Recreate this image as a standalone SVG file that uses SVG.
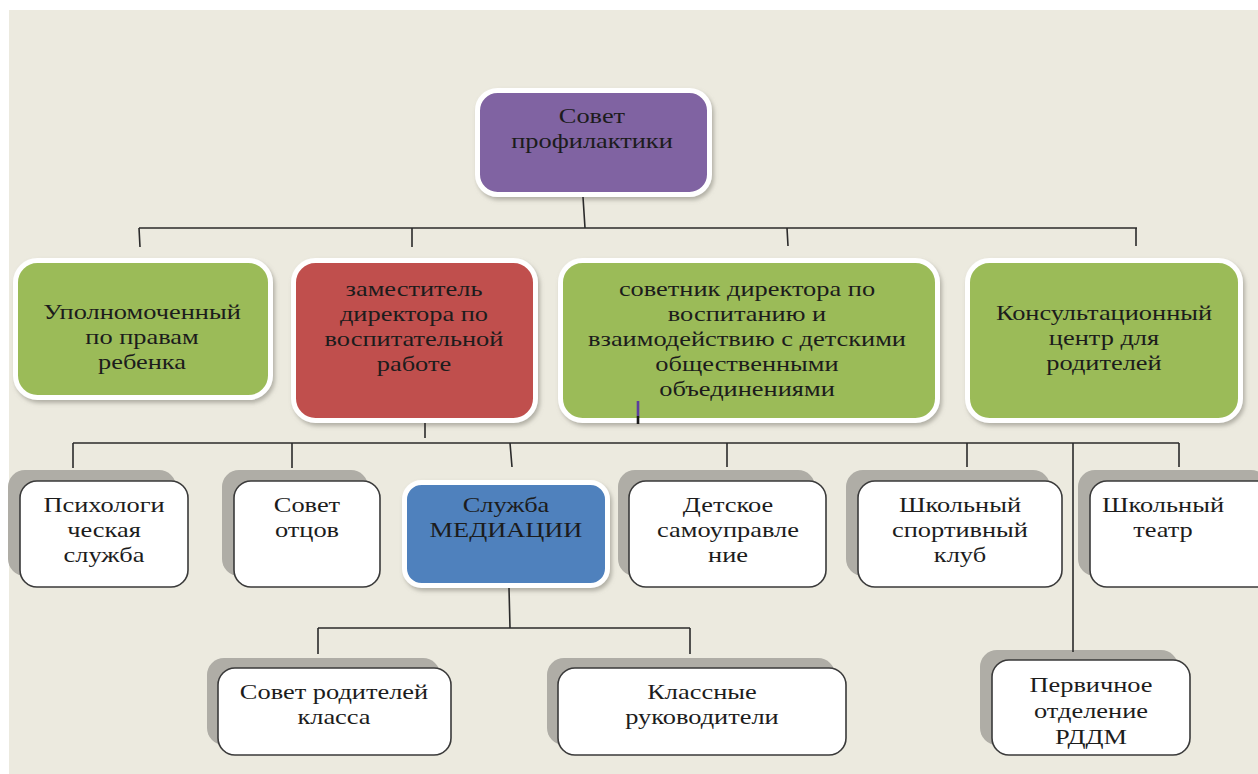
<svg xmlns="http://www.w3.org/2000/svg" width="1258" height="774" viewBox="0 0 1258 774">
<defs>
<style>
.bg{fill:#ECEADF}
.c{fill:none;stroke:#2b2b2b;stroke-width:1.6}
.col{stroke:#ffffff;stroke-width:5}
.wn{fill:#ffffff;stroke:#3a3a3a;stroke-width:1.6}
.sh{fill:#AFADA6}
</style>
<filter id="ds" x="-10%" y="-10%" width="125%" height="130%">
<feDropShadow dx="2" dy="3" stdDeviation="2" flood-color="#8a887f" flood-opacity="0.6"/>
</filter>
<filter id="bl" x="-10%" y="-10%" width="120%" height="120%">
<feGaussianBlur stdDeviation="0.7"/>
</filter>
</defs>
<rect x="0" y="0" width="1258" height="774" fill="#ffffff"/>
<rect class="bg" x="9" y="10" width="1249" height="764"/>

<g id="n-sovet-profilaktiki">
<rect class="col" x="477.5" y="90.5" width="232" height="104" rx="20" fill="#8064A2" filter="url(#ds)"/>
<g transform="matrix(1.2 0 0 1 -118.4 0)">
<text x="592" y="123" font-family="Liberation Serif" font-size="22" text-anchor="middle" fill="#1c1c1c">Совет</text>
<text x="592" y="148" font-family="Liberation Serif" font-size="22" text-anchor="middle" fill="#1c1c1c">профилактики</text>
</g>
</g>

<g id="n-upolnomochenny">
<rect class="col" x="15.5" y="260.5" width="255" height="137" rx="22" fill="#9BBB59" filter="url(#ds)"/>
<g transform="matrix(1.2 0 0 1 -28.4 0)">
<text x="142" y="319" font-family="Liberation Serif" font-size="22" text-anchor="middle" fill="#1c1c1c">Уполномоченный</text>
<text x="142" y="344" font-family="Liberation Serif" font-size="22" text-anchor="middle" fill="#1c1c1c">по правам</text>
<text x="142" y="369" font-family="Liberation Serif" font-size="22" text-anchor="middle" fill="#1c1c1c">ребенка</text>
</g>
</g>

<g id="n-zamestitel">
<rect class="col" x="293.5" y="260.5" width="242" height="160" rx="22" fill="#C0504D" filter="url(#ds)"/>
<g transform="matrix(1.2 0 0 1 -82.8 0)">
<text x="414" y="296" font-family="Liberation Serif" font-size="22" text-anchor="middle" fill="#1c1c1c">заместитель</text>
<text x="414" y="321" font-family="Liberation Serif" font-size="22" text-anchor="middle" fill="#1c1c1c">директора по</text>
<text x="414" y="346" font-family="Liberation Serif" font-size="22" text-anchor="middle" fill="#1c1c1c">воспитательной</text>
<text x="414" y="371" font-family="Liberation Serif" font-size="22" text-anchor="middle" fill="#1c1c1c">работе</text>
</g>
</g>

<g id="n-sovetnik">
<rect class="col" x="560.5" y="260.5" width="377" height="160" rx="22" fill="#9BBB59" filter="url(#ds)"/>
<g transform="matrix(1.2 0 0 1 -149.4 0)">
<text x="747" y="296" font-family="Liberation Serif" font-size="22" text-anchor="middle" fill="#1c1c1c">советник директора по</text>
<text x="747" y="321" font-family="Liberation Serif" font-size="22" text-anchor="middle" fill="#1c1c1c">воспитанию и</text>
<text x="747" y="346" font-family="Liberation Serif" font-size="22" text-anchor="middle" fill="#1c1c1c">взаимодействию с детскими</text>
<text x="747" y="371" font-family="Liberation Serif" font-size="22" text-anchor="middle" fill="#1c1c1c">общественными</text>
<text x="747" y="396" font-family="Liberation Serif" font-size="22" text-anchor="middle" fill="#1c1c1c">объединениями</text>
</g>
</g>

<g id="n-konsult">
<rect class="col" x="967.5" y="260.5" width="273" height="160" rx="22" fill="#9BBB59" filter="url(#ds)"/>
<g transform="matrix(1.2 0 0 1 -220.8 0)">
<text x="1104" y="320" font-family="Liberation Serif" font-size="22" text-anchor="middle" fill="#1c1c1c">Консультационный</text>
<text x="1104" y="345" font-family="Liberation Serif" font-size="22" text-anchor="middle" fill="#1c1c1c">центр для</text>
<text x="1104" y="370" font-family="Liberation Serif" font-size="22" text-anchor="middle" fill="#1c1c1c">родителей</text>
</g>
</g>

<g id="n-psych">
<rect class="sh" x="8" y="470" width="168" height="106" rx="17" filter="url(#bl)"/>
<rect class="wn" x="20" y="481" width="168" height="106" rx="17"/>
<g transform="matrix(1.2 0 0 1 -20.8 0)">
<text x="104" y="512" font-family="Liberation Serif" font-size="22" text-anchor="middle" fill="#1c1c1c">Психологи</text>
<text x="104" y="537" font-family="Liberation Serif" font-size="22" text-anchor="middle" fill="#1c1c1c">ческая</text>
<text x="104" y="562" font-family="Liberation Serif" font-size="22" text-anchor="middle" fill="#1c1c1c">служба</text>
</g>
</g>

<g id="n-sovet-otcov">
<rect class="sh" x="222" y="470" width="146" height="106" rx="17" filter="url(#bl)"/>
<rect class="wn" x="234" y="481" width="146" height="106" rx="17"/>
<g transform="matrix(1.2 0 0 1 -61.4 0)">
<text x="307" y="512" font-family="Liberation Serif" font-size="22" text-anchor="middle" fill="#1c1c1c">Совет</text>
<text x="307" y="537" font-family="Liberation Serif" font-size="22" text-anchor="middle" fill="#1c1c1c">отцов</text>
</g>
</g>

<g id="n-mediacii">
<rect class="col" x="404.5" y="482.5" width="203" height="103" rx="17" fill="#4F81BD" filter="url(#ds)"/>
<g transform="matrix(1.2 0 0 1 -101.2 0)">
<text x="506" y="512" font-family="Liberation Serif" font-size="22" text-anchor="middle" fill="#1c1c1c">Служба</text>
<text x="506" y="537" font-family="Liberation Serif" font-size="22" text-anchor="middle" fill="#1c1c1c">МЕДИАЦИИ</text>
</g>
</g>

<g id="n-detskoe">
<rect class="sh" x="618" y="470" width="197" height="106" rx="17" filter="url(#bl)"/>
<rect class="wn" x="629" y="481" width="197" height="106" rx="17"/>
<g transform="matrix(1.2 0 0 1 -145.6 0)">
<text x="728" y="512" font-family="Liberation Serif" font-size="22" text-anchor="middle" fill="#1c1c1c">Детское</text>
<text x="728" y="537" font-family="Liberation Serif" font-size="22" text-anchor="middle" fill="#1c1c1c">самоуправле</text>
<text x="728" y="562" font-family="Liberation Serif" font-size="22" text-anchor="middle" fill="#1c1c1c">ние</text>
</g>
</g>

<g id="n-sport">
<rect class="sh" x="846" y="470" width="204" height="106" rx="17" filter="url(#bl)"/>
<rect class="wn" x="858" y="481" width="204" height="106" rx="17"/>
<g transform="matrix(1.2 0 0 1 -192 0)">
<text x="960" y="512" font-family="Liberation Serif" font-size="22" text-anchor="middle" fill="#1c1c1c">Школьный</text>
<text x="960" y="537" font-family="Liberation Serif" font-size="22" text-anchor="middle" fill="#1c1c1c">спортивный</text>
<text x="960" y="562" font-family="Liberation Serif" font-size="22" text-anchor="middle" fill="#1c1c1c">клуб</text>
</g>
</g>

<g id="n-teatr">
<rect class="sh" x="1078" y="470" width="190" height="106" rx="17" filter="url(#bl)"/>
<rect class="wn" x="1090" y="481" width="190" height="106" rx="17"/>
<g transform="matrix(1.2 0 0 1 -232.6 0)">
<text x="1163" y="512" font-family="Liberation Serif" font-size="22" text-anchor="middle" fill="#1c1c1c">Школьный</text>
<text x="1163" y="537" font-family="Liberation Serif" font-size="22" text-anchor="middle" fill="#1c1c1c">театр</text>
</g>
</g>

<g id="n-sovet-roditeley">
<rect class="sh" x="207" y="658" width="233" height="87" rx="17" filter="url(#bl)"/>
<rect class="wn" x="218" y="668" width="233" height="87" rx="17"/>
<g transform="matrix(1.2 0 0 1 -66.8 0)">
<text x="334" y="699" font-family="Liberation Serif" font-size="22" text-anchor="middle" fill="#1c1c1c">Совет родителей</text>
<text x="334" y="724" font-family="Liberation Serif" font-size="22" text-anchor="middle" fill="#1c1c1c">класса</text>
</g>
</g>

<g id="n-klassnye">
<rect class="sh" x="547" y="658" width="288" height="87" rx="17" filter="url(#bl)"/>
<rect class="wn" x="558" y="668" width="288" height="87" rx="17"/>
<g transform="matrix(1.2 0 0 1 -140.4 0)">
<text x="702" y="699" font-family="Liberation Serif" font-size="22" text-anchor="middle" fill="#1c1c1c">Классные</text>
<text x="702" y="724" font-family="Liberation Serif" font-size="22" text-anchor="middle" fill="#1c1c1c">руководители</text>
</g>
</g>

<g id="n-pervichnoe">
<rect class="sh" x="980" y="650" width="198" height="95" rx="17" filter="url(#bl)"/>
<rect class="wn" x="992" y="660" width="198" height="95" rx="17"/>
<g transform="matrix(1.2 0 0 1 -218.2 0)">
<text x="1091" y="692" font-family="Liberation Serif" font-size="22" text-anchor="middle" fill="#1c1c1c">Первичное</text>
<text x="1091" y="718" font-family="Liberation Serif" font-size="22" text-anchor="middle" fill="#1c1c1c">отделение</text>
<text x="1091" y="744" font-family="Liberation Serif" font-size="22" text-anchor="middle" fill="#1c1c1c">РДДМ</text>
</g>
</g>

<g id="connectors">
<path class="c" d="M583,197 L585,228 M139,228 H1137 M139,228 L140,247 M412,228 V247 M787,228 L788,246 M1136,228 V246"/>
<path class="c" d="M425,423 V438 M73,443 H1179 M73,443 V468 M292,443 V468 M510,443 L512,467 M727,443 V467 M967,443 V467 M1179,443 V467 M1073,443 V652"/>
<path d="M638,401 V416" stroke="#5B3E9E" stroke-width="2.6"/>
<path d="M638,416 V424" stroke="#1a1a1a" stroke-width="2.6"/>
<path class="c" d="M509,588 L510,628 M318,628 H690 M318,628 V654 M690,628 V654"/>
</g>
</svg>
